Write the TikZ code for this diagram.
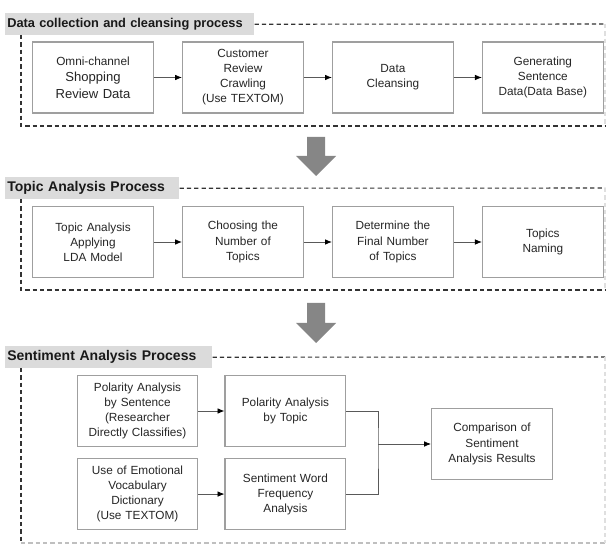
\documentclass[tikz,border=0pt]{standalone}
\usepackage{fontspec}
\setmainfont{Liberation Sans}
\usepackage{tikz}
\usetikzlibrary{arrows.meta,positioning,calc}

\begin{document}
\begin{tikzpicture}[
		x=0.75pt, y=-0.75pt,
		% Style definitions
		stage/.style={
			rectangle,
			draw=gray!75,
			line width=0.8pt,
			fill=white,
			minimum width=90pt,
			minimum height=53.25pt,
			text width=84pt,
			align=center,
			text=black!85,
			font=\fontsize{8.85}{11.3}\selectfont
		},
		header/.style={
			rectangle,
			fill=gray!28,
			anchor=north west,
			minimum height=16.5pt,
			inner xsep=1.5pt,
			inner ysep=0pt,
			align=left,
			text=black!90,
			font=\fontsize{10.5}{12}\selectfont\bfseries
		},
		frame/.style={
			draw=black!80,
			line width=0.8pt,
			dash pattern=on 3.2pt off 2.3pt
		},
		arrow/.style={
			-{Latex[length=5.2pt,width=4.2pt,black]},
			line width=0.6pt,
			gray!70!black
		},
		bigarrow/.style={
			fill=gray!95
		},
		node distance=21pt
		]
		\useasboundingbox (0,0) rectangle (607,545);
		
		% Data collection and cleansing process
		\node[header, text width=183.75pt, font=\fontsize{9.6}{12}\selectfont\bfseries] (H1) at (5,13) {\mbox{Data collection and cleansing process}};
		\draw[frame] (H1.east) -- (605,24);
		\draw[frame] (21,35) -- (21,126) -- (605,126);
		\draw[frame, draw=gray!25] (605,24) -- (605,126);
		
		\node[stage, font=\fontsize{9.8}{12.4}\selectfont] (D1) at (93,77.5) {{\fontsize{8.85}{12.4}\selectfont Omni-channel}\\Shopping\\Review Data};
		\node[stage, right=of D1] (D2) {Customer\\Review\\Crawling\\(Use TEXTOM)};
		\node[stage, right=of D2] (D3) {Data\\Cleansing};
		\node[stage, right=of D3] (D4) {Generating\\Sentence\\Data(Data Base)};
		
		\draw[arrow] (D1.east) -- (D2.west);
		\draw[arrow] (D2.east) -- (D3.west);
		\draw[arrow] (D3.east) -- (D4.west);
		
		% Down arrow
		\fill[bigarrow] (307,137) -- (325,137) -- (325,156) -- (336,156) -- (316,176) -- (296,156) -- (307,156) -- cycle;
		
		% Topic Analysis Process
		\node[header, text width=127.5pt] (H2) at (5,177) {Topic Analysis Process};
		\draw[frame] (H2.east) -- (605,188);
		\draw[frame] (21,199) -- (21,290) -- (605,290);
		\draw[frame, draw=gray!25] (605,188) -- (605,290);
		
		\node[stage] (T1) at (93,242) {Topic Analysis\\Applying\\LDA Model};
		\node[stage, right=of T1] (T2) {Choosing the\\Number of\\Topics};
		\node[stage, right=of T2] (T3) {Determine the\\Final Number\\of Topics};
		\node[stage, right=of T3] (T4) {Topics\\Naming};
		
		\draw[arrow] (T1.east) -- (T2.west);
		\draw[arrow] (T2.east) -- (T3.west);
		\draw[arrow] (T3.east) -- (T4.west);
		
		% Down arrow
		\fill[bigarrow] (307,303) -- (325,303) -- (325,323) -- (336,323) -- (316,343) -- (296,323) -- (307,323) -- cycle;
		
		% Sentiment Analysis Process
		\node[header, text width=152.25pt] (H3) at (5,346) {Sentiment Analysis Process};
		\draw[frame] (H3.east) -- (605,357);
		\draw[frame] (21,368) -- (21,543);
		\draw[frame, draw=gray!50] (21,543) -- (605,543);
		\draw[frame, draw=gray!25] (605,357) -- (605,543);
		
		\node[stage] (S1) at (137.5,411) {Polarity Analysis\\by Sentence\\(Researcher\\Directly Classifies)};
		\node[stage, right=19.5pt of S1] (S2) {Polarity Analysis\\by Topic};
		\node[stage, below=8.25pt of S1] (S3) {Use of Emotional\\Vocabulary\\Dictionary\\(Use TEXTOM)};
		\node[stage, right=19.5pt of S3] (S4) {Sentiment Word\\Frequency\\Analysis};
		\node[stage] (S5) at (492,444) {Comparison of\\Sentiment\\Analysis Results};
		\coordinate (J) at (378,444);
		
		\draw[arrow] (S1.east) -- (S2.west);
		\draw[arrow] (S3.east) -- (S4.west);
		\draw[line width=0.6pt, gray!70!black] (S2.east) -| (J) |- (S4.east);
		\draw[arrow] (J) -- (S5.west);
		
	\end{tikzpicture}
\end{document}
